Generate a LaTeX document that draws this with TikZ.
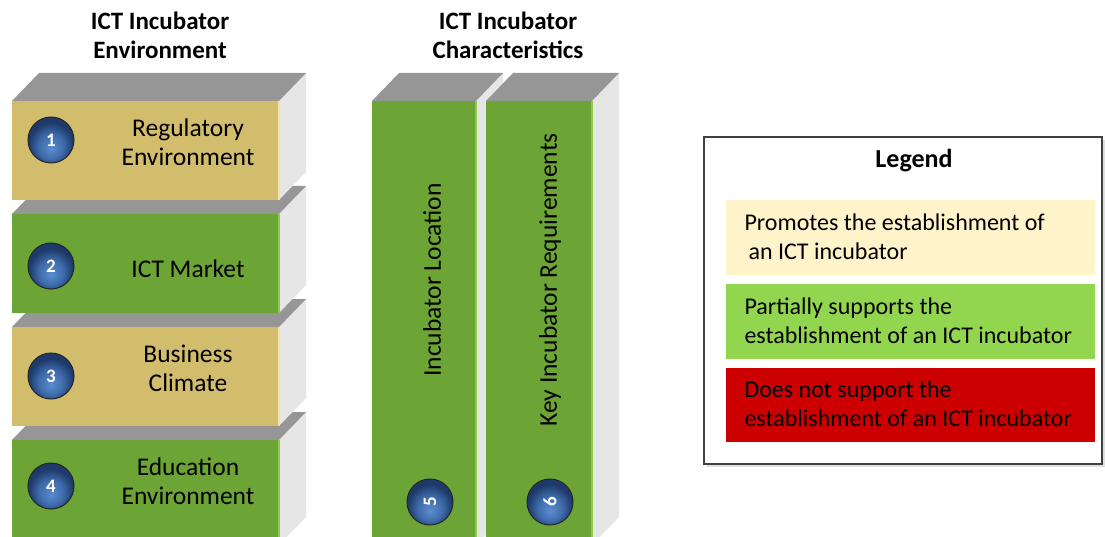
\documentclass[tikz,border=0pt]{standalone}
\usepackage{fontspec}
\setmainfont{Carlito}
\definecolor{tanface}{HTML}{D2BD6C}
\definecolor{tanedge}{HTML}{F4E3A0}
\definecolor{greenface}{HTML}{6CA535}
\definecolor{greenedge}{HTML}{8CCB50}
\definecolor{topgray}{HTML}{969696}
\definecolor{sidegray}{HTML}{E6E6E6}
\definecolor{ballhi}{HTML}{5A8DD0}
\definecolor{ballmid}{HTML}{3D69A8}
\definecolor{balldark}{HTML}{1E3A6A}
\definecolor{legyellow}{HTML}{FFF3C9}
\definecolor{leggreen}{HTML}{92D650}
\definecolor{legred}{HTML}{CC0000}
\definecolor{legframe}{HTML}{404040}
\pgfdeclareradialshading{ballshade}{\pgfpoint{0bp}{-10bp}}{%
  color(0bp)=(ballhi); color(14bp)=(ballmid); color(24bp)=(balldark); color(50bp)=(balldark)}
% a block: front face (x1,y1)-(x2,y2), with a grey top and side in depth
\newcommand\slab[6]{%
  \fill[sidegray] (#3,#2) -- (#3+27,#2-28) -- (#3+27,#4-28) -- (#3,#4) -- cycle;
  \fill[topgray] (#1,#2) -- (#1+27,#2-28) -- (#3+27,#2-28) -- (#3,#2) -- cycle;
  \fill[#5] (#1,#2) rectangle (#3,#4);
  \draw[#6, line width=1.2pt] (#3,#2) -- (#3,#4);
}
\tikzset{
  label/.style={font=\fontsize{25.5}{29}\selectfont, align=center, text=black},
  title/.style={font=\fontsize{25}{29}\selectfont\bfseries, align=center},
  ball/.style={circle, draw=black!85, line width=1pt, minimum size=46pt, inner sep=0pt,
    shading=ballshade, text=white, font=\fontsize{19}{19}\selectfont\bfseries},
  legtext/.style={font=\fontsize{24}{29}\selectfont, align=left, anchor=west, text=black},
}
\begin{document}
\begin{tikzpicture}[x=1pt,y=-1pt]
\useasboundingbox (0,0) rectangle (1105,537);
\clip (0,0) rectangle (1105,537);

% titles
\node[title] (t1) at (160,35) {ICT Incubator\\Environment};
\node[title] (t2) at (508,35) {ICT Incubator\\Characteristics};

% stacked environment blocks, lowest first
\slab{12}{440}{279}{545}{greenface}{greenedge}
\slab{12}{327}{279}{426}{tanface}{tanedge}
\slab{12}{214}{279}{313}{greenface}{greenedge}
\slab{12}{101}{279}{200}{tanface}{tanedge}

\node[label] (b1) at (188,142) {Regulatory\\Environment};
\node[label] (b2) at (188,269) {ICT Market};
\node[label] (b3) at (188,368) {Business\\Climate};
\node[label] (b4) at (188,481) {Education\\Environment};

\node[ball] (n1) at (51,140) {1};
\node[ball] (n2) at (51,266) {2};
\node[ball] (n3) at (51,376) {3};
\node[ball] (n4) at (51,486) {4};

% characteristic columns
\slab{372}{101}{476}{545}{greenface}{greenedge}
\slab{486}{101}{592}{545}{greenface}{greenedge}

\node[label, rotate=90] (c5) at (432,280) {Incubator Location};
\node[label, rotate=90] (c6) at (550,280) {Key Incubator Requirements};
\node[ball, rotate=90] (n5) at (430,502) {5};
\node[ball, rotate=90] (n6) at (550,502) {6};

% legend
\fill[black!12] (707,140) rectangle (1105,467);
\draw[legframe, fill=white, line width=1.3pt] (704,137) rectangle (1102,464);
\node[title, font=\fontsize{26}{30}\selectfont\bfseries] (lt) at (914,161) {Legend};
\fill[legyellow] (726,200) rectangle (1095,275);
\fill[leggreen] (726,284) rectangle (1095,359);
\fill[legred] (726,368) rectangle (1095,442);
\node[legtext] (l1) at (741,237) {Promotes the establishment of\\\hspace{4pt}an ICT incubator};
\node[legtext] (l2) at (741,321) {Partially supports the\\establishment of an ICT incubator};
\node[legtext] (l3) at (741,404) {Does not support the\\establishment of an ICT incubator};
\end{tikzpicture}
\end{document}
